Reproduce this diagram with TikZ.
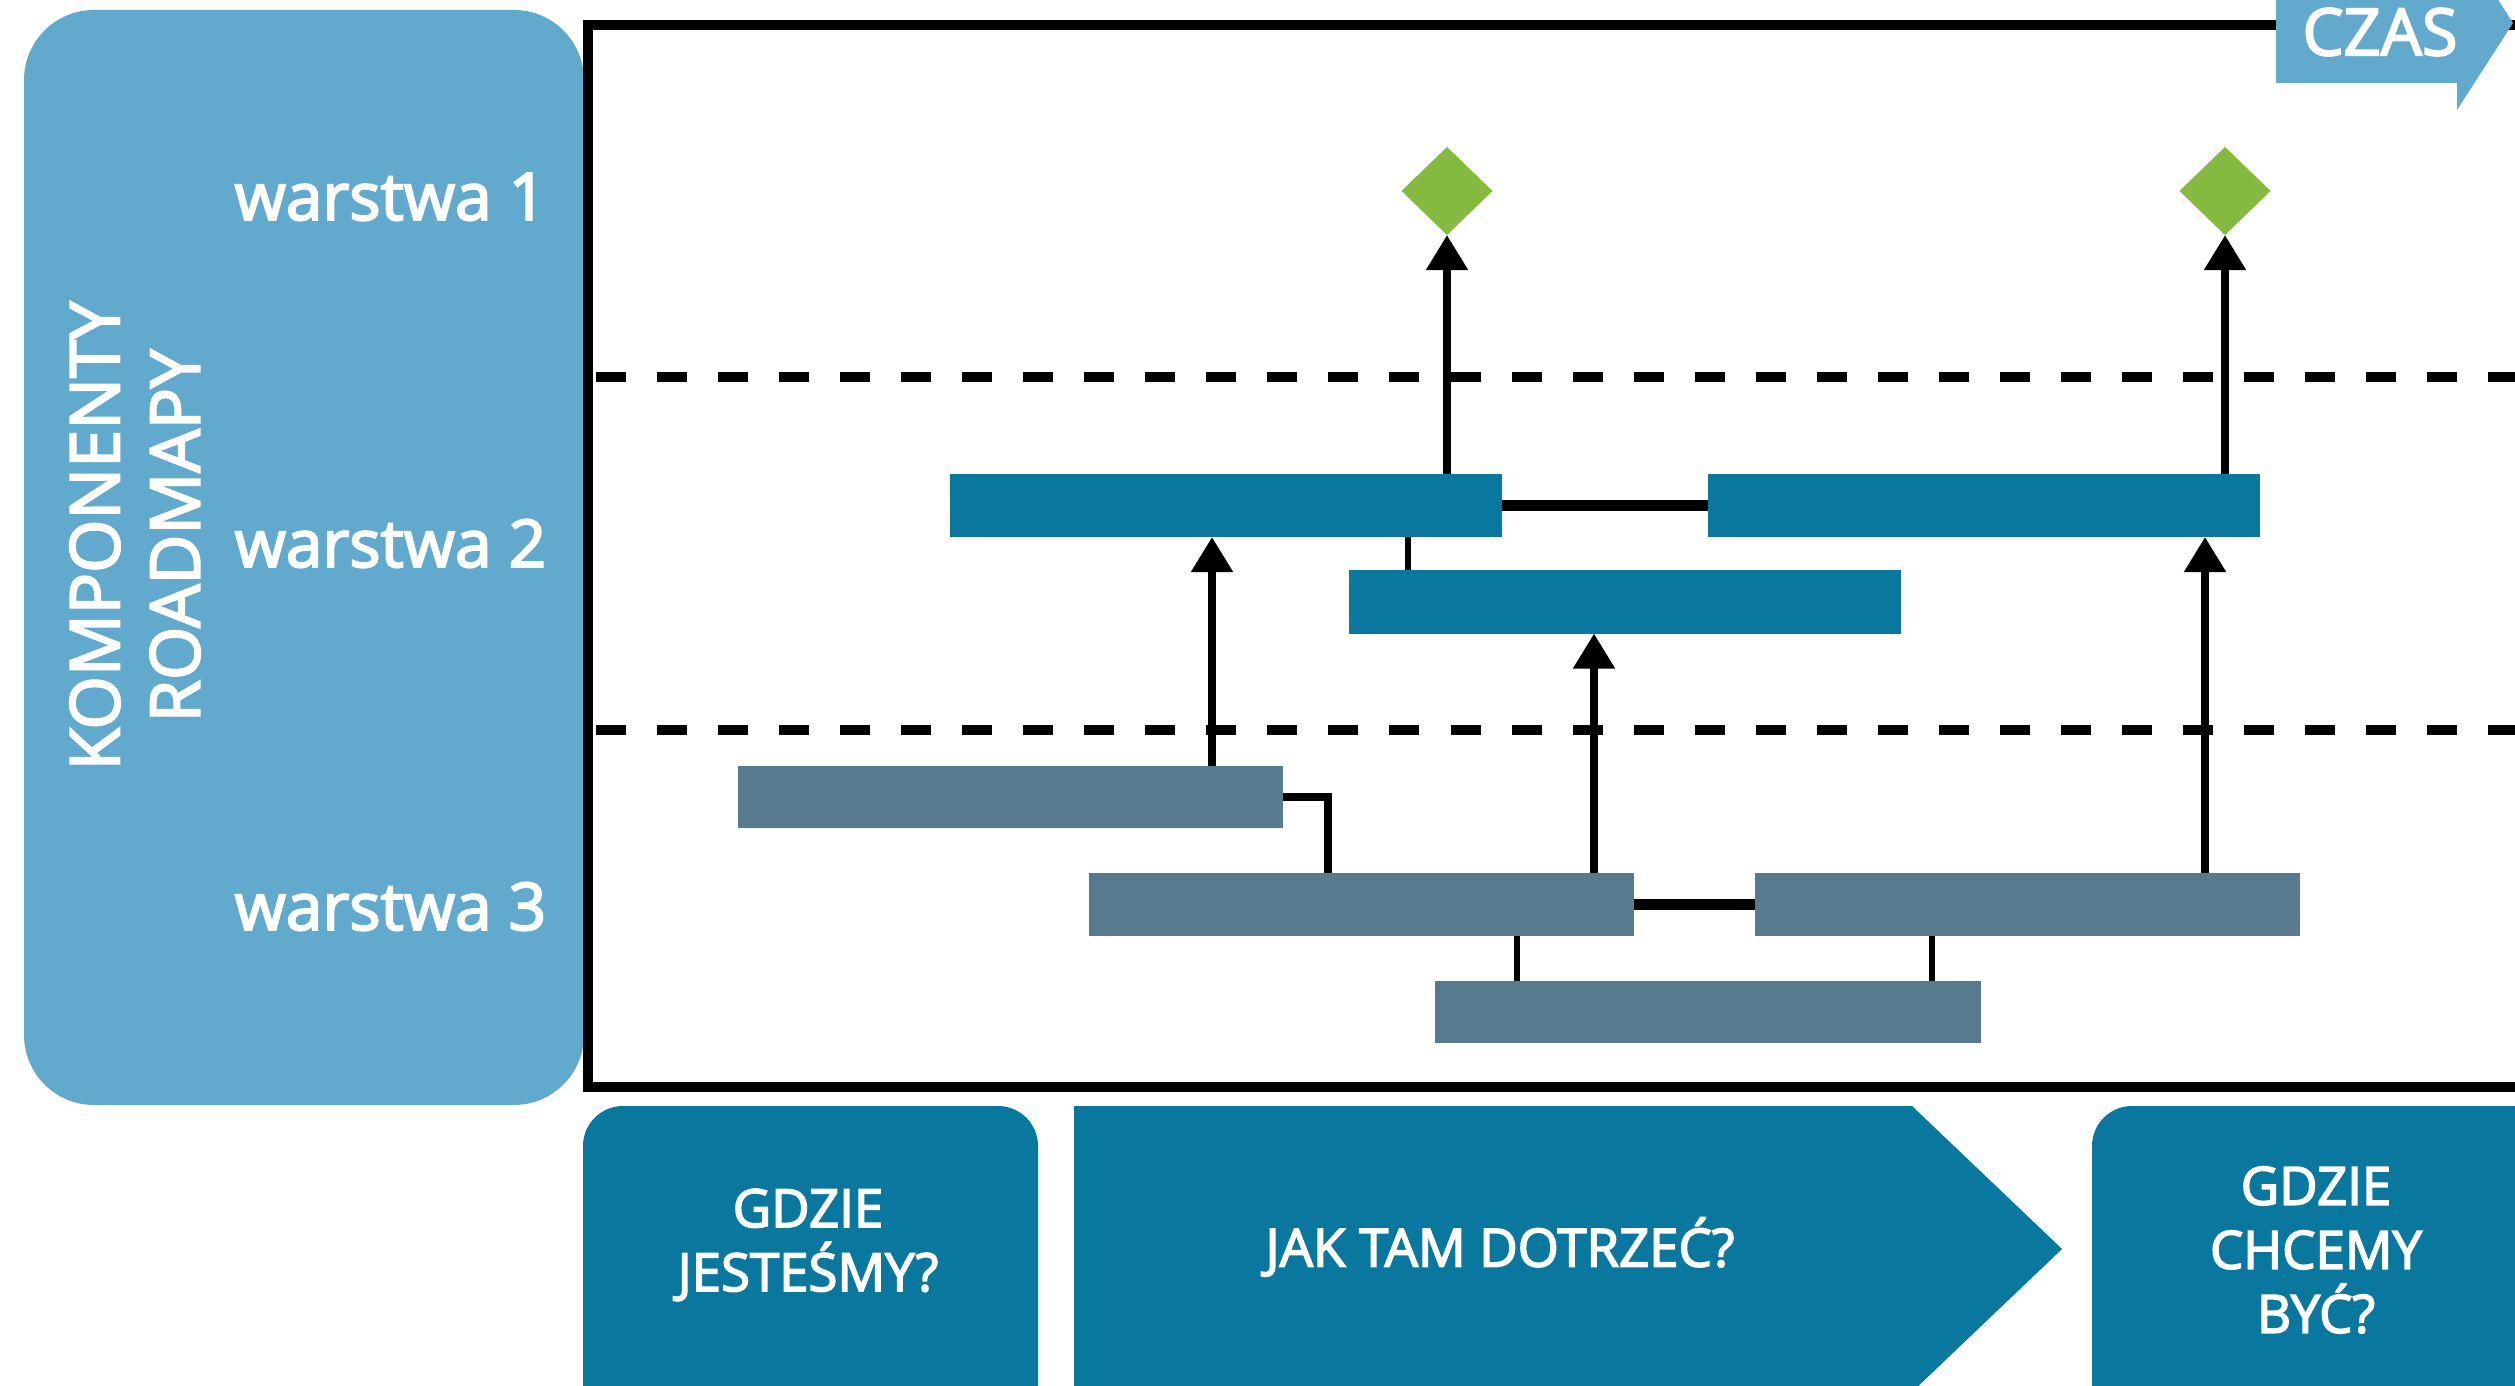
\documentclass[tikz,border=0pt]{standalone}
\usepackage{fontspec}
\setmainfont{Open Sans}
\newfontfamily\medfont{Open Sans}[FakeBold=3]
\usetikzlibrary{arrows.meta,shapes.geometric}
\definecolor{lightblue}{HTML}{62AACD}
\definecolor{darkblue}{HTML}{0A779E}
\definecolor{slate}{HTML}{587A8F}
\definecolor{leaf}{HTML}{86B93F}
\begin{document}
\begin{tikzpicture}[x=0.01cm,y=-0.01cm,
  bartop/.style={fill=darkblue, draw=none, minimum width=5.52cm, minimum height=0.63cm, inner sep=0pt, outer sep=0pt},
  barlow/.style={fill=slate, draw=none, minimum width=5.45cm, minimum height=0.62cm, inner sep=0pt, outer sep=0pt},
  goal/.style={diamond, aspect=1, fill=leaf, draw=none, minimum width=0.91cm, minimum height=0.88cm, inner sep=0pt, outer sep=0pt},
  arr/.style={line width=2.3pt, -{Triangle[width=0.4cm,length=0.35cm]}},
  link/.style={line width=2.85pt},
  tie/.style={line width=1.8pt},
  frameline/.style={line width=3.1pt, line join=miter},
  layerline/.style={line width=3pt, dash pattern=on 0.30cm off 0.31cm},
  layertext/.style={text=white, font=\medfont\fontsize{18.7}{22}\selectfont, inner sep=0pt, anchor=base east},
  sidetext/.style={text=white, font=\medfont\fontsize{19.5}{22.8}\selectfont, align=center, rotate=90, inner sep=0pt},
  qtext/.style={text=white, font=\medfont\fontsize{15}{18.2}\selectfont, align=center, inner sep=0pt},
  czastext/.style={text=white, font=\medfont\fontsize{18.5}{20}\selectfont, inner sep=0pt}
]
\useasboundingbox (0,0) rectangle (2515,1386);
\clip (0,0) rectangle (2515,1386);

% left panel
\fill[lightblue, rounded corners=0.7cm] (24,10) rectangle (584,1105);
\node[sidetext] (side) at (135,536) {KOMPONENTY\\ROADMAPY};
\node[layertext] (w1) at (547,220) {warstwa 1};
\node[layertext] (w2) at (547,567) {warstwa 2};
\node[layertext] (w3) at (547,930) {warstwa 3};

% frame
\draw[frameline] (2560,25) -- (588,25) -- (588,1087) -- (2560,1087);

% CZAS arrow
\fill[lightblue] (2276,-37) -- (2457,-37) -- (2457,-64) -- (2513,23) -- (2457,110) -- (2457,83) -- (2276,83) -- cycle;
\node[czastext] (czas) at (2380,32) {CZAS};

% layer separators
\draw[layerline] (596,377) -- (2515,377);
\draw[layerline] (596,730) -- (2515,730);

% bars
\node[bartop] (b2a) at (1226,505.5) {};
\node[bartop] (b2b) at (1984,505.5) {};
\node[bartop] (b2c) at (1625,602) {};
\node[barlow] (b3a) at (1010.5,797) {};
\node[barlow] (b3b) at (1361.5,904.5) {};
\node[barlow] (b3c) at (2027.5,904.5) {};
\node[barlow] (b3d) at (1708,1012) {};

% goals
\node[goal] (g1) at (1447,191) {};
\node[goal] (g2) at (2225,191) {};

% helper x positions
\coordinate (xa) at (1212,0);
\coordinate (xb) at (1594,0);
\coordinate (xc) at (2205,0);
\coordinate (xd) at (1408,0);
\coordinate (xe) at (1517,0);
\coordinate (xf) at (1932,0);
\coordinate (xg) at (1328,0);

% arrows
\draw[arr] (b2a.north -| g1.south) -- (g1.south);
\draw[arr] (b2b.north -| g2.south) -- (g2.south);
\draw[arr] (b3a.north -| xa) -- (b2a.south -| xa);
\draw[arr] (b3b.north -| xb) -- (b2c.south -| xb);
\draw[arr] (b3c.north -| xc) -- (b2b.south -| xc);

% links
\draw[link] (b2a.east) -- (b2b.west);
\draw[link] (b3b.east) -- (b3c.west);
\draw[tie] (b2a.south -| xd) -- (b2c.north -| xd);
\draw[tie] (b3b.south -| xe) -- (b3d.north -| xe);
\draw[tie] (b3c.south -| xf) -- (b3d.north -| xf);
\draw[link, line width=2.3pt] (b3a.east) -| (b3b.north -| xg);

% bottom questions
\fill[darkblue, rounded corners=0.4cm] (583,1106) rectangle (1038,1460);
\fill[darkblue] (1074,1106) -- (1912,1106) -- (2062,1249) -- (1912,1392) -- (1074,1392) -- cycle;
\fill[darkblue, rounded corners=0.4cm] (2092,1106) rectangle (2580,1460);
\node[qtext] (q1) at (808,1245) {GDZIE\\JESTEŚMY?};
\node[qtext] (q2) at (1500,1247) {JAK TAM DOTRZEĆ?};
\node[qtext] (q3) at (2316,1250) {GDZIE\\CHCEMY\\BYĆ?};
\end{tikzpicture}
\end{document}
